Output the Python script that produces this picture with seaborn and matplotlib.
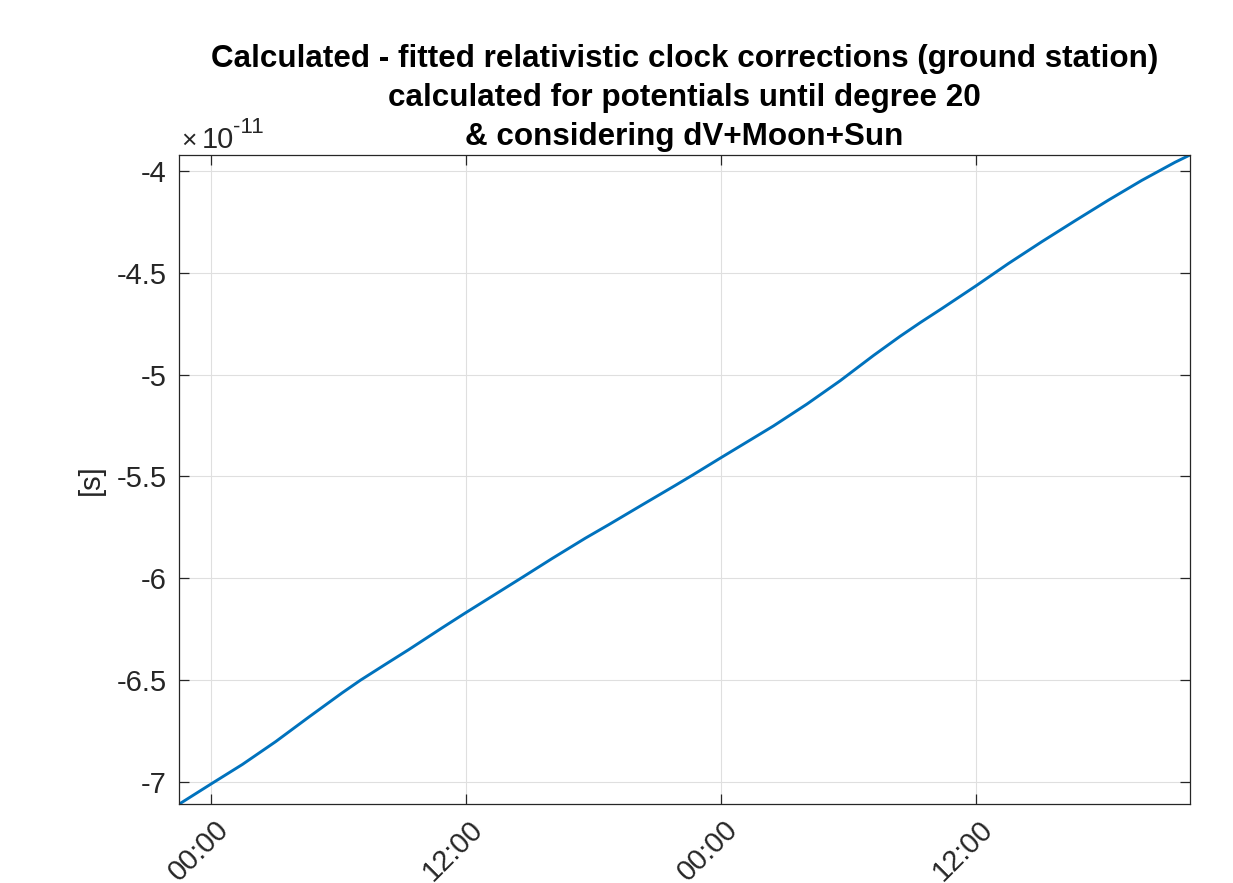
import matplotlib
matplotlib.use("Agg")
import matplotlib.pyplot as plt
from matplotlib.transforms import ScaledTranslation
import seaborn as sns
import pandas as pd

# Time since the first midnight [h] and clock correction difference [1e-11 s]
hours = [-1.505, 0.0, 1.477, 3.043, 4.610, 6.181, 7.041, 8.217, 9.313, 10.884,
         11.947, 13.236, 14.647, 16.058, 17.625, 18.721, 20.292, 21.858, 22.644,
         23.975, 25.466, 26.48, 28.05, 29.62, 31.19, 32.44, 33.40, 34.403, 36.002,
         37.535, 39.106, 40.673, 42.239, 43.810, 45.376, 46.082]
correction = [-7.109, -7.010, -6.914, -6.802, -6.681, -6.562, -6.500, -6.422, -6.350, -6.243,
              -6.172, -6.088, -5.996, -5.903, -5.803, -5.737, -5.640, -5.544, -5.495,
              -5.410, -5.316, -5.252, -5.145, -5.030, -4.906, -4.812, -4.744, -4.676, -4.565,
              -4.455, -4.348, -4.245, -4.144, -4.047, -3.958, -3.922]

xtick_pos = [0, 12, 24, 36]
xtick_labels = ["00:00", "12:00", "00:00", "12:00"]
ytick_pos = [-7, -6.5, -6, -5.5, -5, -4.5, -4]
ytick_labels = ["-7", "-6.5", "-6", "-5.5", "-5", "-4.5", "-4"]

sns.set_theme(style="white")
plt.rcParams["font.family"] = ["Liberation Sans", "DejaVu Sans"]

W, H = 1233, 883
fig = plt.figure(figsize=(W / 100, H / 100), dpi=100)
ax = fig.add_axes([0.1452, 0.0895, 0.8199, 0.7350])

df = pd.DataFrame({"t": hours, "dt": correction})
sns.lineplot(data=df, x="t", y="dt", ax=ax, color="#0072BD", linewidth=2.1, sort=False)

ax.set_xlim(hours[0], hours[-1])
ax.set_ylim(-7.108, -3.922)

ax.set_xticks(xtick_pos)
ax.set_xticklabels(xtick_labels, rotation=45, ha="right", va="center",
                   rotation_mode="anchor", fontsize=21, color="#262626")
ax.set_yticks(ytick_pos)
ax.set_yticklabels(ytick_labels, fontsize=21, color="#262626")

ax.tick_params(axis="both", direction="in", length=7, width=0.9, color="#262626",
               top=True, right=True, bottom=True, left=True)
ax.tick_params(axis="x", pad=15)
ax.tick_params(axis="y", pad=9)

# nudge the rotated time labels to the right of their ticks
shift = ScaledTranslation(13 / 100, 0, fig.dpi_scale_trans)
for lab in ax.get_xticklabels():
    lab.set_transform(lab.get_transform() + shift)

ax.grid(True, color="#dfdfdf", linewidth=0.8)
for side in ax.spines.values():
    side.set_color("#262626")
    side.set_linewidth(0.9)

ax.set_xlabel("")
ax.set_ylabel("[s]", fontsize=21, color="#262626", labelpad=8)

# exponent of the y axis values
fig.text(181 / W, 1 - 148 / H, "\u00d7", fontsize=19, color="#262626", ha="left", va="baseline")
fig.text(202 / W, 1 - 148 / H, "10", fontsize=21, color="#262626", ha="left", va="baseline")
fig.text(233 / W, 1 - 133 / H, "-11", fontsize=16, color="#262626", ha="left", va="baseline")

ax.set_title("Calculated - fitted relativistic clock corrections (ground station)\n"
             "calculated for potentials until degree 20\n"
             "& considering dV+Moon+Sun",
             fontsize=22.6, fontweight="bold", color="black", linespacing=1.40, pad=7)

fig.savefig("out.png", dpi=100, facecolor="white")
